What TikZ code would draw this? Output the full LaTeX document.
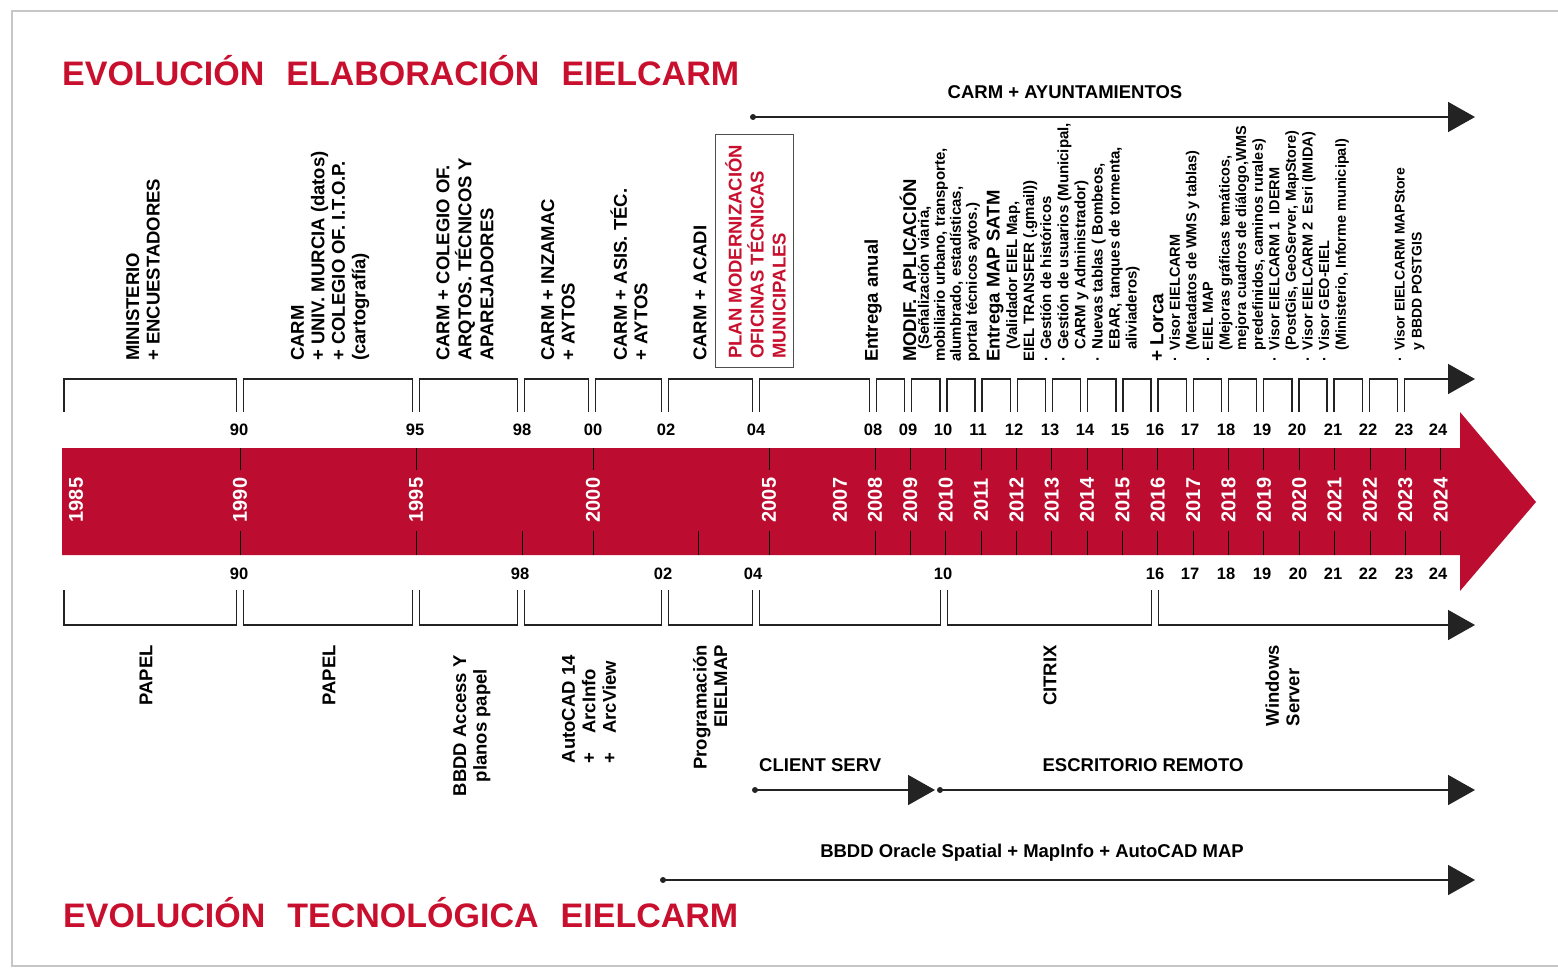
\documentclass[tikz,border=0pt]{standalone}
\usepackage{fontspec}
\setmainfont{Liberation Sans}
\usetikzlibrary{arrows.meta}
\definecolor{bandred}{RGB}{188,13,48}
\definecolor{titlered}{RGB}{200,16,46}
\definecolor{ln}{RGB}{35,35,35}
\newcommand{\fs}[2]{\fontsize{#1}{#2}\selectfont}
\newcommand{\bu}{\makebox[0.8em][l]{·}}
\newcommand{\ind}{\hspace*{0.8em}}
\begin{document}
\begin{tikzpicture}[x=1pt,y=-1pt,
  big/.style={rotate=90, anchor=west, inner sep=0pt, align=left, font=\bfseries\fs{18.5}{20.5}},
  sm/.style={rotate=90, anchor=west, inner sep=0pt, align=left, font=\bfseries\fs{15}{17}},
  blab/.style={rotate=90, anchor=east, inner sep=0pt, font=\bfseries\fs{18.5}{20.5}},
  hl/.style={inner sep=0pt, font=\bfseries\fs{18.5}{22}},
  num/.style={inner sep=0pt, font=\bfseries\fs{16.5}{18}},
  yr/.style={rotate=90, inner sep=0pt, text=white, font=\bfseries\fs{20}{22}},
  ttl/.style={anchor=base west, inner sep=0pt, text=titlered, font=\bfseries\fs{34}{38}},
  br/.style={draw=ln, line width=1.5pt},
  arr/.style={draw=ln, line width=1.6pt, -{Triangle[length=27pt,width=30pt]}},
  tick/.style={draw=black, line width=0.8pt}
]
\useasboundingbox (0,0) rectangle (1558,969);
% frame
\draw[gray!45, line width=1.5pt] (1558,11) -- (12,11) -- (12,966) -- (1558,966);

% titles
\node[ttl] (T1) at (62,85) {EVOLUCIÓN\hspace{0.65em}ELABORACIÓN\hspace{0.65em}EIELCARM};
\node[ttl] (T2) at (63,927) {EVOLUCIÓN\hspace{0.65em}TECNOLÓGICA\hspace{0.65em}EIELCARM};

% CARM + AYUNTAMIENTOS arrow
\node[hl] (ca) at (1065,92) {CARM + AYUNTAMIENTOS};
\coordinate (caS) at (753,117);
\coordinate (caE) at (1475,117);
\draw[arr] (caS) -- (caE);
\fill[ln] (caS) circle[radius=3pt];

% top labels
\node[big] (t1) at (143,361) {MINISTERIO\\+ ENCUESTADORES};
\node[big] (t2) at (330,361) {CARM\\+ UNIV. MURCIA (datos)\\+ COLEGIO OF. I.T.O.P.\\(cartografía)};
\node[big, font=\bfseries\fs{18.5}{22}] (t3) at (465,361) {CARM + COLEGIO OF.\\ARQTOS. TÉCNICOS Y\\APAREJADORES};
\node[big] (t4) at (558,361) {CARM + INZAMAC\\+ AYTOS};
\node[big] (t5) at (629,361) {CARM + ASIS. TÉC.\\+ AYTOS};
\node[big] (t6) at (700,361) {CARM + ACADI};
\node[draw=ln!80, line width=1pt, minimum width=78pt, minimum height=233pt, inner sep=0pt] (planbox) at (754,250.5) {};
\node[big, text=titlered, font=\bfseries\fs{18.5}{22}] (t7) at (755.5,359) {PLAN MODERNIZACIÓN\\OFICINAS TÉCNICAS\\MUNICIPALES};
\node[big] (t8) at (873,362) {Entrega anual};
\node[big] (t9) at (908,362) {MODIF. APLICACIÓN};
\node[sm, font=\bfseries\fs{15}{16}] (t10) at (949,362) {\ind(Señalización viaria,\\mobiliario urbano, transporte,\\alumbrado, estadísticas,\\portal técnicos aytos.)};
\node[big] (t11) at (995,362) {Entrega MAP SATM};
\node[sm, font=\bfseries\fs{15}{17.1}] (t12) at (1073,362) {\ind(Validador EIEL Map,\\EIEL TRANSFER (.gmail))\\\bu Gestión de históricos\\\bu Gestión de usuarios (Municipal,\\\ind CARM y Administrador)\\\bu Nuevas tablas ( Bombeos,\\\ind EBAR, tanques de tormenta,\\\ind aliviaderos)};
\node[big, font=\bfseries\fs{19}{21}] (t13) at (1157,362) {+ Lorca};
\node[sm, font=\bfseries\fs{14.5}{16.6}] (t14) at (1259,362) {\bu Visor EIELCARM\\\ind(Metadatos de WMS y tablas)\\\bu EIEL MAP\\\ind(Mejoras gráficas temáticos,\\\ind mejora cuadros de diálogo,WMS\\\ind predefinidos, caminos rurales)\\\bu Visor EIELCARM 1\ \ IDERM\\\ind(PostGis, GeoServer, MapStore)\\\bu Visor EIELCARM 2\ \ Esri (IMIDA)\\\bu Visor GEO-EIEL\\\ind(Ministerio, Informe municipal)};
\node[sm, font=\bfseries\fs{14}{17}] (t15) at (1409.5,362) {\bu Visor EIELCARM MAPStore\\\ind y BBDD POSTGIS};

% top brackets
\foreach \a/\b in {64/236.5, 243.5/412.5, 419.5/517.5, 524.5/588.5, 595.5/661.5, 668.5/752.5, 759.5/869.5}
  \draw[br] (\a,412) -- (\a,379) -- (\b,379) -- (\b,412);
\foreach \k in {0,...,14} {
  \pgfmathsetmacro\a{873+35.2*\k+3.5}
  \pgfmathsetmacro\b{873+35.2*(\k+1)-3.5}
  \draw[br] (\a,412) -- (\a,379) -- (\b,379) -- (\b,412);
}
\coordinate (tbS) at (1404.5,412);
\coordinate (tbC) at (1404.5,379);
\coordinate (tbE) at (1475,379);
\draw[arr] (tbS) -- (tbC) -- (tbE);

% top numbers
\foreach \x/\t [count=\i] in {239/90, 415/95, 522/98, 593/00, 666/02, 756/04, 873/08, 908/09, 943/10, 978/11, 1014/12, 1050/13, 1085/14, 1120/15, 1155/16, 1190/17, 1226/18, 1262/19, 1297/20, 1333/21, 1368/22, 1404/23, 1438/24}
  \node[num] (tn\i) at (\x,430) {\t};

% band
\fill[bandred] (62,448) -- (1460,448) -- (1460,412) -- (1536,502) -- (1460,591) -- (1460,555) -- (62,555) -- cycle;
\foreach \x in {240,416,593,769}
  \draw[tick] (\x,448) -- (\x,470);
\foreach \x in {240,416,522,593,698,769}
  \draw[tick] (\x,531) -- (\x,555);
\foreach \k in {0,...,16} {
  \pgfmathsetmacro\x{875+35.35*\k}
  \draw[tick] (\x,448) -- (\x,470);
  \draw[tick] (\x,531) -- (\x,555);
}
\foreach \x/\t [count=\i] in {76/1985, 240/1990, 416/1995, 593/2000, 769/2005, 840/2007}
  \node[yr] (ya\i) at (\x,500) {\t};
\foreach \k [count=\i] in {0,...,16} {
  \pgfmathsetmacro\x{875+35.35*\k}
  \pgfmathtruncatemacro\yy{2008+\k}
  \node[yr] (yb\i) at (\x,500) {\yy};
}

% bottom numbers
\foreach \x/\t [count=\i] in {239/90, 520/98, 663/02, 753/04, 943/10, 1155/16, 1190/17, 1226/18, 1262/19, 1298/20, 1333/21, 1368/22, 1404/23, 1438/24}
  \node[num] (bn\i) at (\x,574) {\t};

% bottom brackets
\foreach \a/\b in {64/236.5, 243.5/412.5, 419.5/517.5, 524.5/661.5, 668.5/752.5, 759.5/940.5, 947.5/1151.5}
  \draw[br] (\a,590) -- (\a,625) -- (\b,625) -- (\b,590);
\coordinate (bbS) at (1158.5,590);
\coordinate (bbC) at (1158.5,625);
\coordinate (bbE) at (1475,625);
\draw[arr] (bbS) -- (bbC) -- (bbE);

% bottom labels
\node[blab] (b1) at (146,645) {PAPEL};
\node[blab] (b2) at (329,645) {PAPEL};
\node[blab, align=center] (b3) at (472,655) {BBDD Access Y\\planos papel};
\node[blab, align=left] (b4) at (589,655) {AutoCAD 14\\+\hspace{1em}ArcInfo\\+\hspace{1em}ArcView};
\node[blab, align=right] (b5) at (710,645) {Programación\\EIELMAP};
\node[blab] (b6) at (1050,645) {CITRIX};
\node[blab, align=left] (b7) at (1282.5,645) {Windows\\Server};

% client serv / escritorio remoto
\node[hl, anchor=base west] (cs) at (759,771) {CLIENT SERV};
\node[hl] (er) at (1143,765) {ESCRITORIO REMOTO};
\coordinate (csS) at (755,790);
\coordinate (csE) at (935,790);
\coordinate (erS) at (940,790);
\coordinate (erE) at (1475,790);
\draw[arr] (csS) -- (csE);
\draw[arr] (erS) -- (erE);
\fill[ln] (csS) circle[radius=3pt];
\fill[ln] (erS) circle[radius=3pt];

% BBDD oracle
\node[hl] (bb) at (1032,853) {BBDD Oracle Spatial + MapInfo + AutoCAD MAP};
\coordinate (orS) at (663,880);
\coordinate (orE) at (1475,880);
\draw[arr] (orS) -- (orE);
\fill[ln] (orS) circle[radius=3pt];
\end{tikzpicture}
\end{document}
